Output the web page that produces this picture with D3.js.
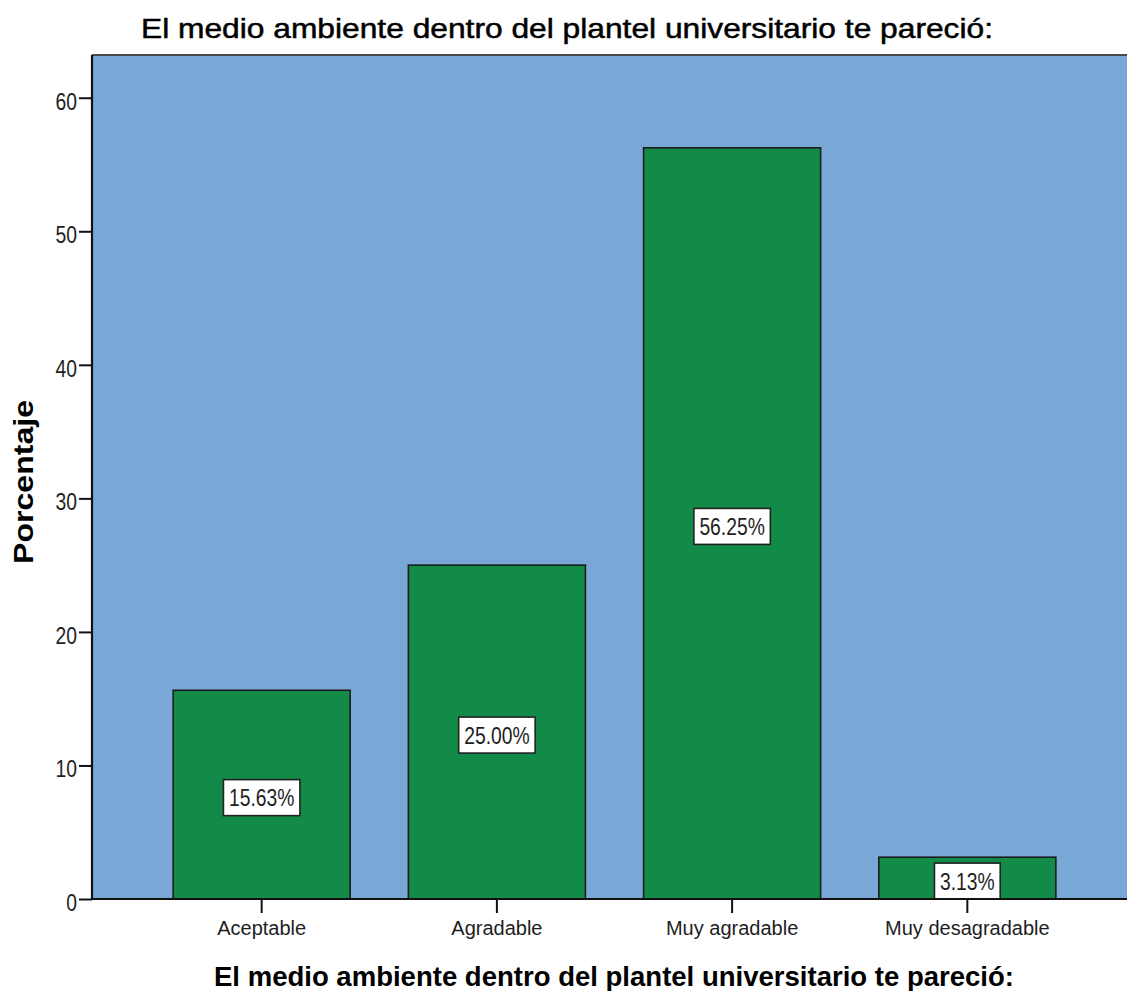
<!DOCTYPE html>
<html>
<head>
<meta charset="utf-8">
<script src="https://cdn.jsdelivr.net/npm/d3@7"></script>
<style>
  html, body { margin: 0; padding: 0; background: #ffffff; }
  svg { display: block; }
  text { font-family: "Liberation Sans", Arial, sans-serif; }
</style>
</head>
<body>
<div id="chart"></div>
<script>
const categories = ["Aceptable", "Agradable", "Muy agradable", "Muy desagradable"];
const values = [15.63, 25.00, 56.25, 3.13];
const valueLabels = ["15.63%", "25.00%", "56.25%", "3.13%"];
const yTicks = [0, 10, 20, 30, 40, 50, 60];
const chartTitle = "El medio ambiente dentro del plantel universitario te pareció:";
const xTitle = "El medio ambiente dentro del plantel universitario te pareció:";
const yTitle = "Porcentaje";

const W = 1127, H = 991;
const plot = { left: 92, top: 55, bottom: 899, right: 1137 };
const colors = { bg: "#7aa8d6", bar: "#128a48", barStroke: "#1c1c1c", axis: "#111111", text: "#1e1e1e" };

const svg = d3.select("#chart").append("svg")
  .attr("width", W).attr("height", H);

const x = d3.scaleBand()
  .domain(categories)
  .range([plot.left, plot.right])
  .paddingInner(0.2474)
  .paddingOuter(0.345);

const y = d3.scaleLinear()
  .domain([0, 63.2])
  .range([plot.bottom, plot.top]);

// plot background
svg.append("rect")
  .attr("x", plot.left).attr("y", plot.top)
  .attr("width", plot.right - plot.left)
  .attr("height", plot.bottom - plot.top)
  .attr("fill", colors.bg);

// top border
svg.append("line")
  .attr("x1", plot.left).attr("x2", W)
  .attr("y1", plot.top).attr("y2", plot.top)
  .attr("stroke", "#4a4a4a").attr("stroke-width", 2);

const data = categories.map((c, i) => ({ c, v: values[i], label: valueLabels[i] }));

// bars
svg.append("g").selectAll("rect")
  .data(data).join("rect")
  .attr("x", d => x(d.c))
  .attr("y", d => y(d.v))
  .attr("width", x.bandwidth())
  .attr("height", d => y(0) - y(d.v))
  .attr("fill", colors.bar)
  .attr("stroke", colors.barStroke)
  .attr("stroke-width", 1.6);

// value labels
const sxVal = 0.84;
const lab = svg.append("g").selectAll("g")
  .data(data).join("g")
  .attr("transform", d => `translate(${x(d.c) + x.bandwidth() / 2},${(y(d.v) + y(0)) / 2 + 3})`);
const labRect = lab.append("rect")
  .attr("fill", "#ffffff")
  .attr("stroke", "#222222")
  .attr("stroke-width", 1.6);
const labText = lab.append("text")
  .attr("text-anchor", "middle")
  .attr("font-size", 23)
  .attr("fill", colors.text)
  .attr("transform", `translate(0,8.5) scale(${sxVal},1)`)
  .text(d => d.label);
labText.each(function () {
  const w = this.getComputedTextLength() * sxVal + 11;
  d3.select(this.parentNode).select("rect")
    .attr("x", -w / 2).attr("y", -18)
    .attr("width", w).attr("height", 36);
});

// y axis
const yAxis = svg.append("g")
  .attr("transform", `translate(${plot.left},0)`)
  .call(d3.axisLeft(y).tickValues(yTicks).tickSize(13).tickFormat(d3.format("d")));
yAxis.select(".domain").remove();
yAxis.selectAll(".tick line").attr("stroke", colors.axis).attr("stroke-width", 2);
yAxis.selectAll(".tick text")
  .attr("x", 0).attr("dy", 0).attr("y", 0)
  .attr("transform", "translate(-15,11.5) scale(0.84,1)")
  .attr("font-size", 23)
  .attr("font-family", "Liberation Sans, Arial, sans-serif")
  .attr("fill", colors.text);

// x axis
const xAxis = svg.append("g")
  .attr("transform", `translate(0,${plot.bottom})`)
  .call(d3.axisBottom(x).tickSize(14));
xAxis.select(".domain").remove();
xAxis.selectAll(".tick line").attr("stroke", colors.axis).attr("stroke-width", 2);
xAxis.selectAll(".tick text")
  .attr("y", 36).attr("dy", 0)
  .attr("font-size", 20)
  .attr("font-family", "Liberation Sans, Arial, sans-serif")
  .attr("fill", colors.text);

// axis lines
svg.append("line")
  .attr("x1", plot.left).attr("x2", plot.left)
  .attr("y1", plot.top).attr("y2", plot.bottom + 1)
  .attr("stroke", colors.axis).attr("stroke-width", 2.2);
svg.append("line")
  .attr("x1", plot.left).attr("x2", W)
  .attr("y1", plot.bottom).attr("y2", plot.bottom)
  .attr("stroke", colors.axis).attr("stroke-width", 2.2);

// titles
svg.append("text")
  .attr("x", 567).attr("y", 38)
  .attr("text-anchor", "middle")
  .attr("font-size", 27.5)
  .attr("fill", "#000")
  .attr("stroke", "#000").attr("stroke-width", 0.5)
  .attr("textLength", 852).attr("lengthAdjust", "spacingAndGlyphs")
  .text(chartTitle);

svg.append("text")
  .attr("x", 614).attr("y", 986)
  .attr("text-anchor", "middle")
  .attr("font-size", 27.5)
  .attr("font-weight", "bold")
  .attr("fill", "#000")
  .attr("textLength", 800).attr("lengthAdjust", "spacingAndGlyphs")
  .text(xTitle);

svg.append("text")
  .attr("transform", "translate(33,482) rotate(-90)")
  .attr("text-anchor", "middle")
  .attr("font-size", 27)
  .attr("font-weight", "bold")
  .attr("fill", "#000")
  .attr("textLength", 164).attr("lengthAdjust", "spacingAndGlyphs")
  .text(yTitle);
</script>
</body>
</html>
